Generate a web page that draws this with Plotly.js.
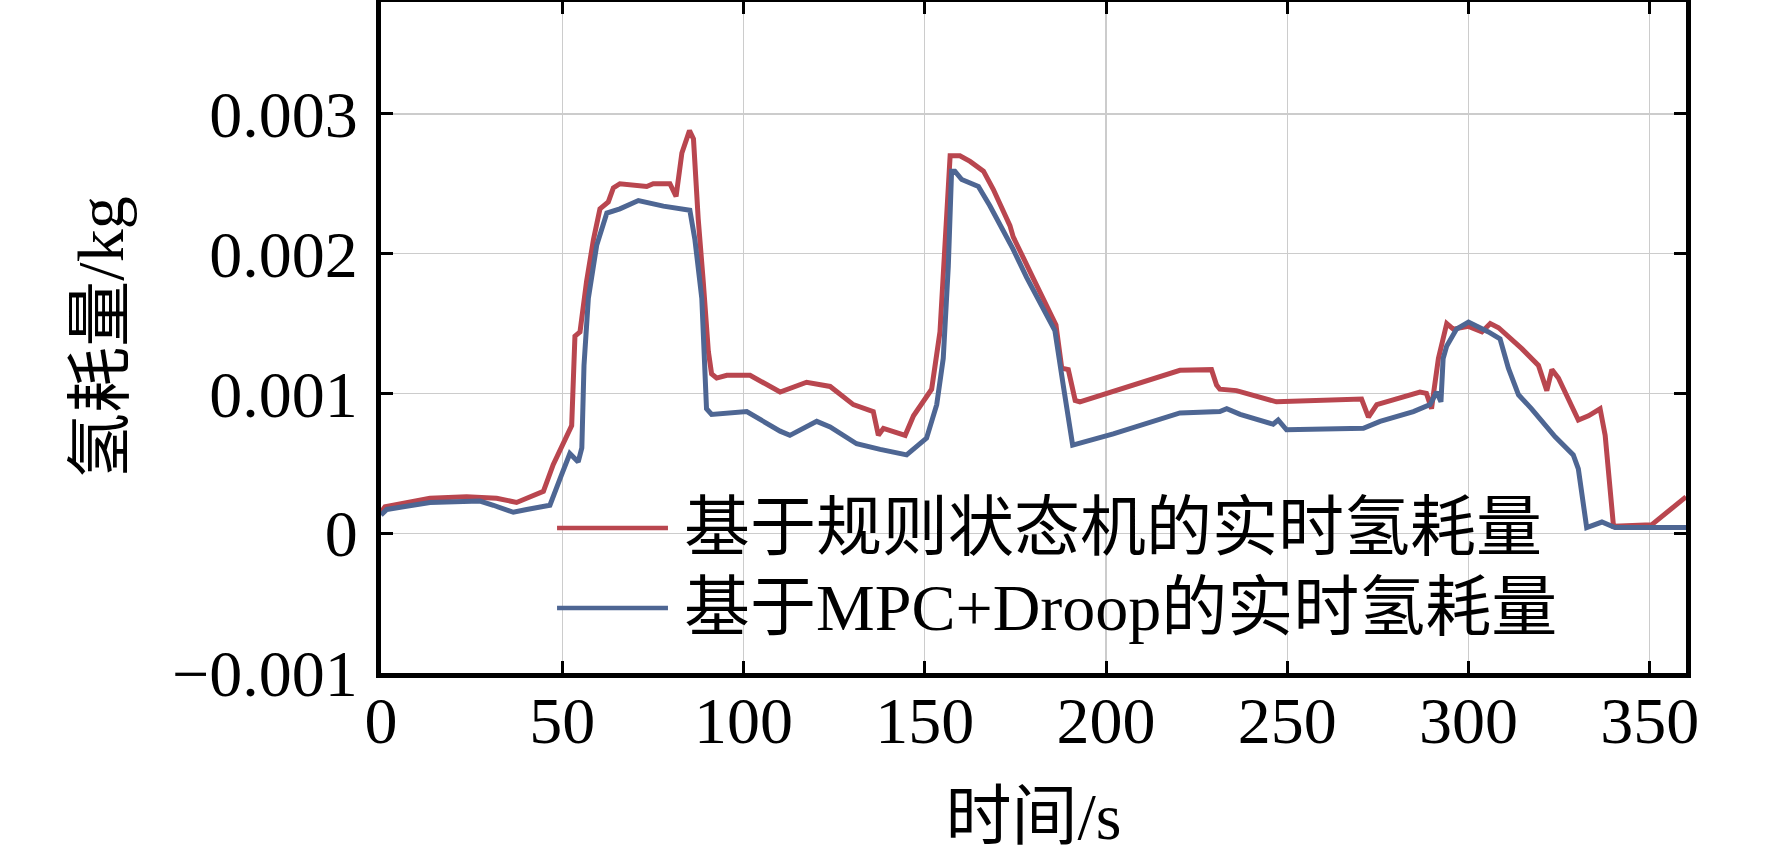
<!DOCTYPE html>
<html>
<head>
<meta charset="utf-8">
<script src="https://cdn.plot.ly/plotly-3.0.1.min.js"></script>
<style>
  html, body { margin: 0; padding: 0; background: #ffffff; }
  #chart { width: 1772px; height: 853px; }
</style>
</head>
<body>
<div id="chart"></div>
<script>
  // time (s) and hydrogen use (kg)
  const ruleX = [0, 1.1, 13.5, 23.6, 31.9, 37.4, 40.2, 44.8, 47.5, 50.8, 52.6, 53.5, 54.9, 56.7, 58.6,
    60.4, 62.7, 64.1, 65.9, 73.3, 75.1, 79.7, 81.4, 83.0, 85.1, 86.2, 87.5, 88.9, 90.3, 91.2,
    92.6, 95.4, 101.8, 110.1, 117.4, 123.9, 130.3, 135.8, 137.2, 138.6, 144.6, 146.9, 151.9,
    154.2, 155.6, 157.0, 159.7, 162.5, 166.2, 168.9, 173.5, 174.4, 180.0, 186.2, 187.8, 189.6,
    191.5, 192.8, 220.4, 229.1, 230.5, 231.4, 236.0, 246.1, 247.0, 270.5, 272.4, 274.7, 286.6,
    288.4, 289.8, 290.3, 291.7, 294.0, 295.8, 300.0, 303.7, 306.0, 308.3, 314.7, 319.3, 321.6,
    323.0, 324.8, 330.3, 333.1, 336.3, 337.7, 340.0, 350.5, 360];
  const ruleY = [0.00015, 0.00019, 0.00025, 0.00026, 0.00025, 0.00022, 0.00025, 0.00030, 0.00049,
    0.00067, 0.00077, 0.00141, 0.00144, 0.00180, 0.00210, 0.00232, 0.00237, 0.00247, 0.00250,
    0.00248, 0.00250, 0.00250, 0.00241, 0.00272, 0.00288, 0.00282, 0.00225, 0.00180, 0.00130,
    0.00114, 0.00111, 0.00113, 0.00113, 0.00101, 0.00108, 0.00105, 0.00092, 0.00087, 0.00070,
    0.00075, 0.00070, 0.00084, 0.00103, 0.00144, 0.00215, 0.00270, 0.00270, 0.00266, 0.00259,
    0.00246, 0.00220, 0.00212, 0.00182, 0.00149, 0.00118, 0.00117, 0.00095, 0.00094, 0.001165,
    0.00117, 0.00106, 0.00103, 0.00102, 0.00095, 0.00094, 0.00096, 0.00083, 0.00092, 0.00101,
    0.00100, 0.00089, 0.00099, 0.00125, 0.00150, 0.00146, 0.00148, 0.00144, 0.00150, 0.00147,
    0.00132, 0.00120, 0.00102, 0.00117, 0.00111, 0.00081, 0.00084, 0.00089, 0.00070, 0.00005,
    0.00006, 0.00026];

  const mpcX = [0, 1.6, 13.5, 27.3, 31.0, 36.5, 40.2, 46.6, 49.4, 52.1, 54.4, 55.4, 56.0, 57.2, 59.5,
    62.3, 65.9, 71.0, 77.9, 85.2, 86.6, 88.5, 89.8, 91.2, 100.9, 110.1, 112.8, 120.2, 123.9,
    131.2, 137.7, 145.0, 150.5, 153.3, 155.1, 156.5, 157.4, 158.3, 160.2, 164.8, 168.0, 174.4,
    178.1, 185.9, 188.2, 190.8, 202.0, 220.4, 231.4, 233.3, 237.0, 246.1, 247.5, 249.8, 271.0,
    275.6, 284.8, 289.4, 291.2, 292.4, 293.0, 294.0, 296.7, 300.0, 305.5, 308.7, 311.0, 313.8,
    317.4, 323.9, 328.9, 330.3, 332.6, 336.8, 340.4, 360];
  const mpcY = [0.00013, 0.00017, 0.00022, 0.00023, 0.00020, 0.00015, 0.00017, 0.00020, 0.00039,
    0.00057, 0.00051, 0.00061, 0.00120, 0.00168, 0.00206, 0.00229, 0.00232, 0.00238, 0.00234,
    0.00231, 0.00210, 0.00168, 0.00089, 0.00085, 0.00087, 0.00073, 0.00070, 0.00080, 0.00076,
    0.00064, 0.00060, 0.00056, 0.00068, 0.00092, 0.00125, 0.00191, 0.00259, 0.00259, 0.00253,
    0.00248, 0.00234, 0.00203, 0.00183, 0.00145, 0.00106, 0.00063, 0.00071, 0.00086, 0.00087,
    0.00089, 0.00085, 0.00078, 0.00081, 0.00074, 0.00075, 0.00080, 0.00087, 0.00092, 0.00101,
    0.00094, 0.00125, 0.00134, 0.00146, 0.00151, 0.00144, 0.00139, 0.00118, 0.00099, 0.00089,
    0.00069, 0.00056, 0.00046, 0.00004, 0.00008, 0.00004, 0.00004];

  const seriesNames = ["基于规则状态机的实时氢耗量", "基于MPC+Droop的实时氢耗量"];
  const seriesColors = ["#b9464f", "#4e6693"];

  const xTickVals = [0, 50, 100, 150, 200, 250, 300, 350];
  const xTickText = ["0", "50", "100", "150", "200", "250", "300", "350"];
  const yTickVals = [-0.001, 0, 0.001, 0.002, 0.003];
  const yTickText = ["\u22120.001", "0", "0.001", "0.002", "0.003"];

  const serif = "Liberation Serif, Times New Roman, Noto Sans CJK SC, serif";

  const traces = [
    { x: ruleX, y: ruleY, name: seriesNames[0] },
    { x: mpcX, y: mpcY, name: seriesNames[1] },
  ].map((t, i) => ({
    x: t.x,
    y: t.y,
    name: t.name,
    type: "scatter",
    mode: "lines",
    line: { color: seriesColors[i], width: 5 },
    showlegend: false,
  }));

  function axisBase() {
    return {
      showline: true,
      linecolor: "#000000",
      linewidth: 5,
      mirror: "ticks",
      ticks: "inside",
      ticklen: 12,
      tickwidth: 3,
      tickcolor: "#000000",
      showgrid: true,
      gridcolor: "#cccccc",
      gridwidth: 1.4,
      zeroline: false,
      tickfont: { family: serif, size: 66, color: "#000000" },
    };
  }

  // hand-built legend: white box, long line samples, labels
  const legendRows = [0.2161, 0.0969];
  const shapes = [{
    type: "rect", xref: "paper", yref: "paper", layer: "between",
    x0: 0.131, x1: 0.915, y0: 0.022, y1: 0.258,
    fillcolor: "#ffffff", line: { width: 0 },
  }];
  const annotations = [];
  legendRows.forEach((y, i) => {
    shapes.push({
      type: "line", xref: "paper", yref: "paper",
      x0: 0.1349, x1: 0.2199, y0: y, y1: y,
      line: { color: seriesColors[i], width: 4.5 },
    });
    annotations.push({
      xref: "paper", yref: "paper", x: 0.2307, y: y,
      xanchor: "left", yanchor: "middle", showarrow: false,
      text: seriesNames[i],
      font: { family: serif, size: 66, color: "#000000" },
    });
  });

  const layout = {
    width: 1772,
    height: 853,
    margin: { l: 381, r: 86, t: 2, b: 180 },
    paper_bgcolor: "#ffffff",
    plot_bgcolor: "#ffffff",
    showlegend: false,
    xaxis: Object.assign(axisBase(), {
      range: [0, 360],
      tickvals: xTickVals,
      ticktext: xTickText,
      ticklabelstandoff: -14,
      title: { text: "时间/s", font: { family: serif, size: 66, color: "#000000" }, standoff: 40 },
    }),
    yaxis: Object.assign(axisBase(), {
      range: [-0.001, 0.0038],
      tickvals: yTickVals,
      ticktext: yTickText,
      ticklabelstandoff: 5,
      title: { text: "氢耗量/kg", font: { family: serif, size: 66, color: "#000000" }, standoff: 28 },
    }),
    shapes: shapes,
    annotations: annotations,
  };

  Plotly.newPlot("chart", traces, layout, { displayModeBar: false, staticPlot: true });
</script>
</body>
</html>
